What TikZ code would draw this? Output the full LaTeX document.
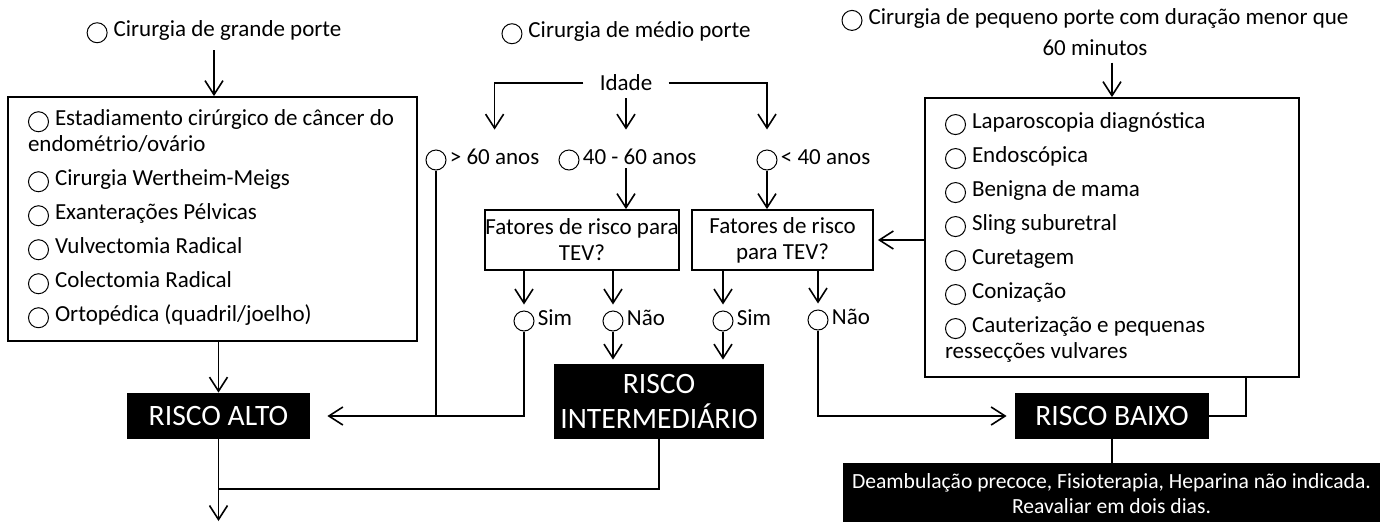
\documentclass[tikz,border=0pt]{standalone}
\usepackage{fontspec}
\setmainfont{Carlito}
\usetikzlibrary{arrows.meta}
\usetikzlibrary{positioning}

\newcommand{\opt}{\tikz[baseline=-2pt]\draw[line width=0.5pt] (0,0) circle (5pt);\hspace{3pt}}

\begin{document}
\begin{tikzpicture}[x=0.5pt,y=-0.5pt,
	every node/.style={font=\fontsize{11.5}{13}\selectfont},
	list box/.style={draw, line width=0.9pt, align=flush left, inner xsep=10pt},
	question node/.style={draw, line width=0.9pt, align=center, inner sep=0pt, minimum height=30pt},
	risk node/.style={fill=black, text=white, align=center, inner sep=0pt, font=\fontsize{14.8}{17.5}\selectfont},
	option node/.style={circle, draw, line width=0.5pt, minimum size=10pt, inner sep=0pt},
	label node/.style={inner xsep=1.5pt, inner ysep=0pt, text height=6pt, text depth=2pt},
	seta/.style={-{Straight Barb[length=7pt,width=9pt]}, line width=0.8pt},
	link/.style={line width=0.8pt}]
	
	\useasboundingbox (0,0) rectangle (1388,521);
	
	\node (grande) at (214,32) {\opt Cirurgia de grande porte};
	\node (medio) at (626,33) {\opt Cirurgia de médio porte};
	\node[align=center] (pequeno) at (1095,32) {\opt Cirurgia de pequeno porte com duração menor que\\[2.5pt]60 minutos};
	
	\node[list box, text width=184.5pt, minimum height=122pt] (lbox) at (212.5,219) {\opt Estadiamento cirúrgico de câncer do\\endométrio/ovário\\[4pt]
		\opt Cirurgia Wertheim-Meigs\\[4pt]
		\opt Exanterações Pélvicas\\[4pt]
		\opt Vulvectomia Radical\\[4pt]
		\opt Colectomia Radical\\[4pt]
		\opt Ortopédica (quadril/joelho)};
	\node[list box, text width=167pt, minimum height=139.5pt] (rbox) at (1112,237.5) {\opt Laparoscopia diagnóstica\\[4pt]
		\opt Endoscópica\\[4pt]
		\opt Benigna de mama\\[4pt]
		\opt Sling suburetral\\[4pt]
		\opt Curetagem\\[4pt]
		\opt Conização\\[4pt]
		\opt Cauterização e pequenas\\ressecções vulvares};
	
	\node[inner xsep=8pt] (idade) at (626,83) {Idade};
	\node[option node] (c60) at (436,160) {};
	\node[label node, right=0pt of c60] (l60) {> 60 anos};
	\node[option node] (c4060) at (569,160) {};
	\node[label node, right=0pt of c4060] (l4060) {40 - 60 anos};
	\node[option node] (c40) at (767,160) {};
	\node[label node, right=0pt of c40] (l40) {< 40 anos};
	
	\node[question node, minimum width=96pt] (tev1) at (582,240) {Fatores de risco para\\TEV?};
	\node[question node, minimum width=90.5pt] (tev2) at (782.5,240) {Fatores de risco\\para TEV?};
	
	\node[option node] (s1) at (524,321) {};
	\node[label node, right=0pt of s1] (ls1) {Sim};
	\node[option node] (n1) at (613,321) {};
	\node[label node, right=0pt of n1] (ln1) {Não};
	\node[option node] (s2) at (723,321) {};
	\node[label node, right=0pt of s2] (ls2) {Sim};
	\node[option node] (n2) at (818,320) {};
	\node[label node, right=0pt of n2] (ln2) {Não};
	
	\node[risk node, minimum width=91.5pt, minimum height=23pt] (ralto) at (218.5,416) {RISCO ALTO};
	\node[risk node, minimum width=105pt, minimum height=37.5pt] (interm) at (659,401.5) {RISCO\\INTERMEDIÁRIO};
	\node[risk node, minimum width=97pt, minimum height=23pt] (rbaixo) at (1112,416) {RISCO BAIXO};
	\node[risk node, minimum width=268.5pt, minimum height=31pt, font=\fontsize{10.8}{12.5}\selectfont] (conduta) at (1111.5,494) {Deambulação precoce, Fisioterapia, Heparina não indicada.\\Reavaliar em dois dias.};
	
	\coordinate (fim) at (218.5,521);
	\coordinate (junta) at (218.5,489);
	
	\draw[seta] (grande.south) -- (grande.south |- lbox.north);
	\draw[seta] (pequeno.south -| rbox.north) -- (rbox.north);
	\draw[seta] (lbox.south -| ralto.north) -- (ralto.north);
	\draw[seta] (ralto.south) -- (fim);
	\draw[link] (interm.south) |- (junta);
	
	\draw[seta, shorten >=11pt] (idade.west) -| (l60.north);
	\draw[seta, shorten >=10pt] (idade.east) -| (c40.north);
	\draw[seta, shorten >=11pt] (idade.south) -- (idade.south |- l4060.north);
	\draw[seta] (l4060.south -| idade.south) -- (tev1.north -| idade.south);
	\draw[seta] (c40.south) -- (c40.south |- tev2.north);
	\draw[seta, shorten >=2pt] (tev2.east -| rbox.west) -- (tev2.east);
	
	\draw[seta, shorten >=3pt] (tev1.south -| s1.north) -- (s1.north);
	\draw[seta, shorten >=3pt] (tev1.south -| n1.north) -- (n1.north);
	\draw[seta, shorten >=3pt] (tev2.south -| s2.north) -- (s2.north);
	\draw[seta, shorten >=3pt] (tev2.south -| n2.north) -- (n2.north);
	
	\draw[seta, shorten >=2pt] (n1.south) -- (n1.south |- interm.north);
	\draw[seta, shorten >=2pt] (s2.south) -- (s2.south |- interm.north);
	\draw[seta, shorten >=8.5pt] (c60.south) |- (ralto.east);
	\draw[link] (s1.south) |- (c60.south |- ralto.east);
	\draw[seta, shorten >=4pt] (n2.south) |- (rbaixo.west);
	\draw[link] ([xshift=67pt]rbox.south) |- (rbaixo.east);
	\draw[link] (rbaixo.south) -- (rbaixo.south |- conduta.north);
\end{tikzpicture}
\end{document}
